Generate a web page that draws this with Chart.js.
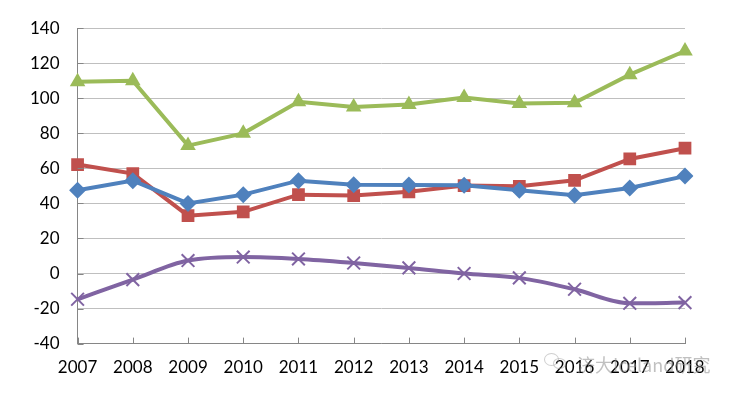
<!DOCTYPE html>
<html>
<head>
<meta charset="utf-8">
<script src="https://cdn.jsdelivr.net/npm/chart.js@4"></script>
<style>
  body { margin: 0; background: #fff; }
  .wrap { position: relative; width: 733px; height: 396px; }
  .mark {
    position: absolute; left: 577px; top: 351px;
    font-family: "Noto Sans CJK SC", sans-serif; font-size: 18px;
    color: rgba(140, 140, 140, 0.55); white-space: nowrap;
  }
  .icon { position: absolute; border: 1.5px solid rgba(160,160,160,0.5); border-radius: 50%; }
</style>
</head>
<body>
<div class="wrap">
  <canvas id="myChart" width="733" height="396"></canvas>
  <div class="icon" style="left:544px;top:353px;width:13px;height:11px"></div>
  <div class="icon" style="left:553px;top:358px;width:11px;height:9px"></div>
  <div class="mark">济大Iceland研究</div>
</div>
<script>
const years = ["2007", "2008", "2009", "2010", "2011", "2012", "2013", "2014", "2015", "2016", "2017", "2018"];
const blueVals = [47.5, 53, 40, 45, 53, 50.7, 50.5, 50.4, 47.5, 44.7, 48.8, 55.6];
const redVals = [62.2, 57, 33, 35.2, 45, 44.5, 46.6, 50.2, 49.8, 53.2, 65.4, 71.5];
const greenVals = [109.5, 110, 73, 80, 98, 95, 96.5, 100.5, 97, 97.5, 113.5, 127];
const purpleVals = [-14.7, -3.5, 7.4, 9.4, 8.3, 6, 3.2, 0, -2.5, -9, -17, -16.6];
const yTicks = [-40, -20, 0, 20, 40, 60, 80, 100, 120, 140];

// small tick marks drawn inside the plot, like the original
const innerTicks = {
  id: "innerTicks",
  afterDraw(chart) {
    const { ctx, scales } = chart;
    const x = scales.x, y = scales.y;
    ctx.save();
    ctx.strokeStyle = "#868686";
    ctx.lineWidth = 1;
    ctx.beginPath();
    yTicks.forEach((v) => {
      const py = Math.round(y.getPixelForValue(v)) + 0.5;
      ctx.moveTo(x.left, py);
      ctx.lineTo(x.left + 6, py);
    });
    years.forEach((lab, i) => {
      const px = Math.round(x.getPixelForValue(i)) + 0.5;
      ctx.moveTo(px, y.bottom);
      ctx.lineTo(px, y.bottom - 6);
    });
    ctx.stroke();
    ctx.restore();
  },
};

const ctx = document.getElementById("myChart").getContext("2d");
const myChart = new Chart(ctx, {
  type: "line",
  data: {
    labels: years,
    datasets: [
      {
        data: purpleVals,
        borderColor: "#8064A2",
        backgroundColor: "#8064A2",
        borderWidth: 4,
        cubicInterpolationMode: "monotone",
        pointStyle: "crossRot",
        pointRadius: 9,
        pointBorderWidth: 2,
      },
      {
        data: blueVals,
        borderColor: "#4F81BD",
        backgroundColor: "#4F81BD",
        borderWidth: 4,
        tension: 0,
        pointStyle: "rectRot",
        pointRadius: 8.5,
        pointBorderWidth: 0,
      },
      {
        data: redVals,
        borderColor: "#C0504D",
        backgroundColor: "#C0504D",
        borderWidth: 4,
        tension: 0,
        pointStyle: "rect",
        pointRadius: 9,
        pointBorderWidth: 0,
      },
      {
        data: greenVals,
        borderColor: "#9BBB59",
        backgroundColor: "#9BBB59",
        borderWidth: 4,
        tension: 0,
        pointStyle: "triangle",
        pointRadius: 9,
        pointBorderWidth: 0,
      },
    ],
  },
  options: {
    responsive: false,
    animation: false,
    layout: { padding: { left: 12, right: 48, top: 10, bottom: 4 } },
    plugins: { legend: { display: false }, tooltip: { enabled: false } },
    scales: {
      x: {
        offset: false,
        grid: { display: false, drawTicks: false },
        border: { color: "#868686", width: 1 },
        ticks: { color: "#000", padding: 14, font: { family: "Lato", size: 17 }, maxRotation: 0 },
      },
      y: {
        min: -40,
        max: 140,
        afterBuildTicks: (axis) => {
          axis.ticks = yTicks.map((v) => ({ value: v }));
        },
        grid: { color: "#BFBFBF", lineWidth: 1, drawTicks: false },
        border: { color: "#868686", width: 1 },
        ticks: { color: "#000", padding: 18, font: { family: "Lato", size: 17 } },
      },
    },
  },
  plugins: [innerTicks],
});
</script>
</body>
</html>
